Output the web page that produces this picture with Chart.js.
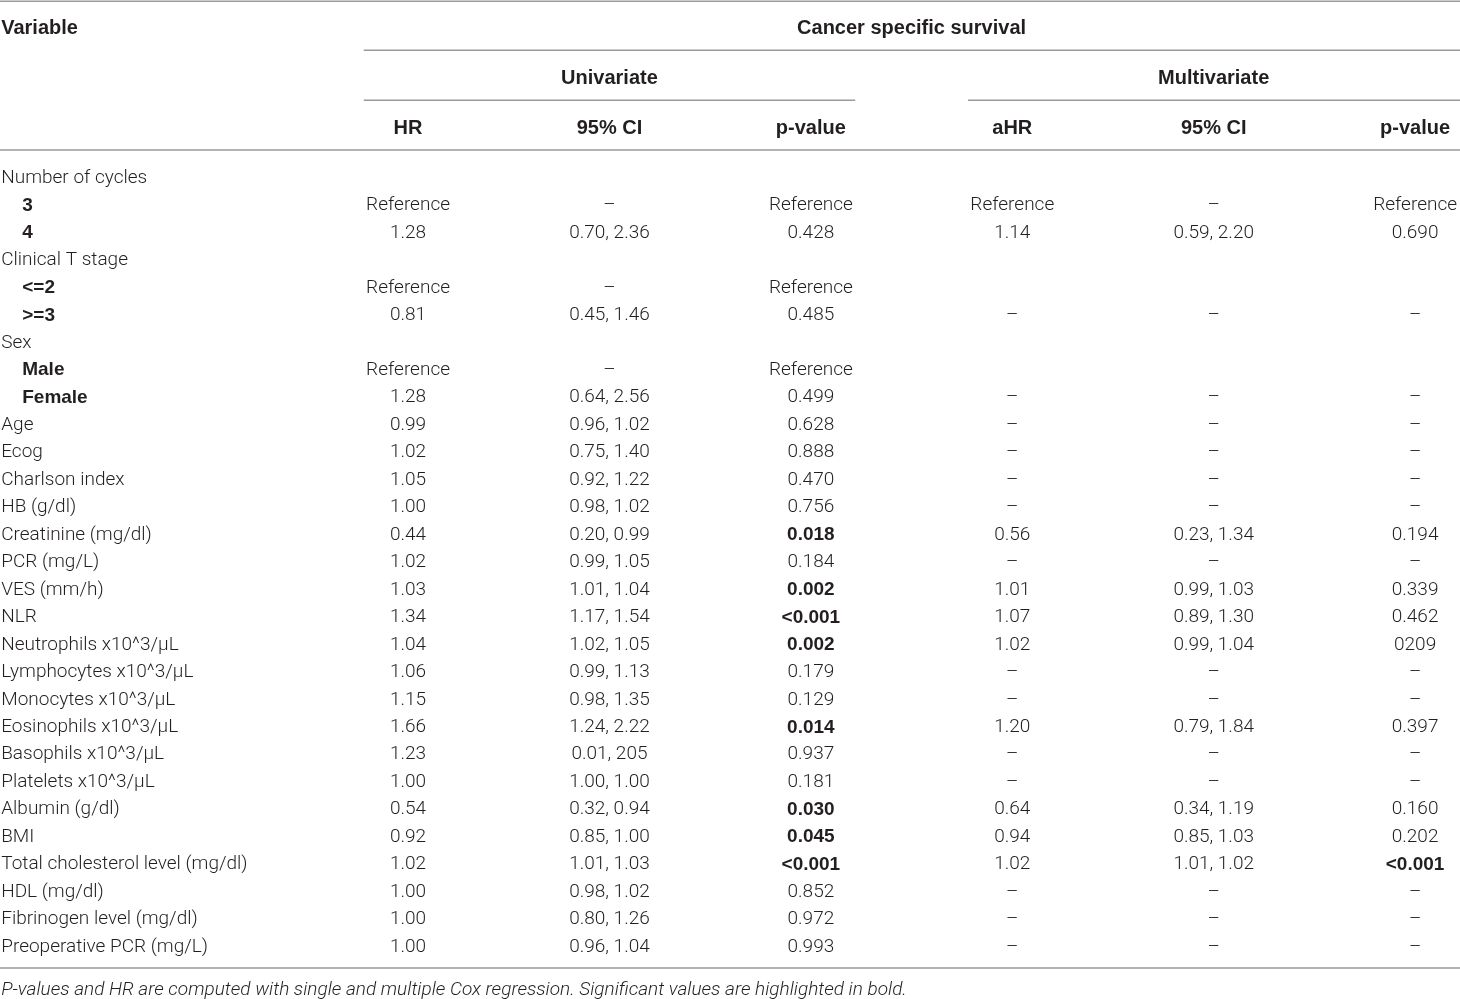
<!DOCTYPE html>
<html>
<head>
<meta charset="utf-8">
<script src="https://cdn.jsdelivr.net/npm/chart.js@4/dist/chart.umd.min.js"></script>
<style>
	html, body { margin: 0; padding: 0; background: #fff; }
	canvas { display: block; }
</style>
</head>
<body>
<canvas id="table" width="1460" height="999"></canvas>
<script>
// table content
const variables = ["Number of cycles", "3", "4", "Clinical T stage", "<=2", ">=3", "Sex", "Male", "Female",
	"Age", "Ecog", "Charlson index", "HB (g/dl)", "Creatinine (mg/dl)", "PCR (mg/L)", "VES (mm/h)", "NLR",
	"Neutrophils x10^3/\u03bcL", "Lymphocytes x10^3/\u03bcL", "Monocytes x10^3/\u03bcL", "Eosinophils x10^3/\u03bcL",
	"Basophils x10^3/\u03bcL", "Platelets x10^3/\u03bcL", "Albumin (g/dl)", "BMI", "Total cholesterol level (mg/dl)",
	"HDL (mg/dl)", "Fibrinogen level (mg/dl)", "Preoperative PCR (mg/L)"];
const subLevels = ["3", "4", "<=2", ">=3", "Male", "Female"];

const hrUni = ["", "Reference", "1.28", "", "Reference", "0.81", "", "Reference", "1.28", "0.99", "1.02", "1.05",
	"1.00", "0.44", "1.02", "1.03", "1.34", "1.04", "1.06", "1.15", "1.66", "1.23", "1.00", "0.54", "0.92", "1.02",
	"1.00", "1.00", "1.00"];
const ciUni = ["", "\u2013", "0.70, 2.36", "", "\u2013", "0.45, 1.46", "", "\u2013", "0.64, 2.56", "0.96, 1.02",
	"0.75, 1.40", "0.92, 1.22", "0.98, 1.02", "0.20, 0.99", "0.99, 1.05", "1.01, 1.04", "1.17, 1.54", "1.02, 1.05",
	"0.99, 1.13", "0.98, 1.35", "1.24, 2.22", "0.01, 205", "1.00, 1.00", "0.32, 0.94", "0.85, 1.00", "1.01, 1.03",
	"0.98, 1.02", "0.80, 1.26", "0.96, 1.04"];
const pUni = ["", "Reference", "0.428", "", "Reference", "0.485", "", "Reference", "0.499", "0.628", "0.888",
	"0.470", "0.756", "0.018", "0.184", "0.002", "<0.001", "0.002", "0.179", "0.129", "0.014", "0.937", "0.181",
	"0.030", "0.045", "<0.001", "0.852", "0.972", "0.993"];
const hrMulti = ["", "Reference", "1.14", "", "", "\u2013", "", "", "\u2013", "\u2013", "\u2013", "\u2013", "\u2013",
	"0.56", "\u2013", "1.01", "1.07", "1.02", "\u2013", "\u2013", "1.20", "\u2013", "\u2013", "0.64", "0.94", "1.02",
	"\u2013", "\u2013", "\u2013"];
const ciMulti = ["", "\u2013", "0.59, 2.20", "", "", "\u2013", "", "", "\u2013", "\u2013", "\u2013", "\u2013", "\u2013",
	"0.23, 1.34", "\u2013", "0.99, 1.03", "0.89, 1.30", "0.99, 1.04", "\u2013", "\u2013", "0.79, 1.84", "\u2013",
	"\u2013", "0.34, 1.19", "0.85, 1.03", "1.01, 1.02", "\u2013", "\u2013", "\u2013"];
const pMulti = ["", "Reference", "0.690", "", "", "\u2013", "", "", "\u2013", "\u2013", "\u2013", "\u2013", "\u2013",
	"0.194", "\u2013", "0.339", "0.462", "0209", "\u2013", "\u2013", "0.397", "\u2013", "\u2013", "0.160", "0.202",
	"<0.001", "\u2013", "\u2013", "\u2013"];

const columnHeaders = ["HR", "95% CI", "p-value", "aHR", "95% CI", "p-value"];
const groupHeaders = ["Univariate", "Multivariate"];
const title = "Cancer specific survival";
const footnote = "P-values and HR are computed with single and multiple Cox regression. Significant values are highlighted in bold.";

// layout in scale units (x: column index, y: row index)
const X_MIN = -1.026, X_MAX = 6.223;
const Y_MIN = -6.408, Y_MAX = 29.967;
const VAR_X = -1.02;
const ROW_TITLE = -5.46, ROW_GROUP = -3.64, ROW_HEAD = -1.82;
const RULE_TOP = -6.36, RULE_TITLE = -4.58, RULE_GROUP = -2.76, RULE_HEAD = -0.95, RULE_BOTTOM = 28.84;
const ROW_NOTE = 29.57;
const TEXT_DY = 2;

const FONT = "Roboto, 'Liberation Sans', sans-serif";
const BOLD_FONT = "'Liberation Sans', Arial, sans-serif";
const TEXT_COLOR = "#231f20";
const RULE_COLOR = "#9a9a9a";

const valueColumns = [hrUni, ciUni, pUni, hrMulti, ciMulti, pMulti];
const pColumns = [2, 5];

const isSignificant = (s) => {
	if (s.startsWith("<")) return true;
	const v = parseFloat(s);
	return s.startsWith("0.") && v < 0.05;
};

const datasets = [];
datasets.push({
	label: "Variable",
	data: variables.map((v, i) => ({ x: VAR_X, y: i })),
	texts: variables,
	align: "left",
});
valueColumns.forEach((col, c) => {
	datasets.push({
		label: columnHeaders[c],
		data: col.map((v, i) => ({ x: c + 1, y: i })),
		texts: col,
		align: "center",
		pColumn: pColumns.includes(c),
	});
});

const tablePlugin = {
	id: "tableText",
	afterDatasetsDraw(chart) {
		const ctx = chart.ctx;
		const xs = chart.scales.x;
		const ys = chart.scales.y;
		ctx.save();
		ctx.fillStyle = TEXT_COLOR;
		ctx.textBaseline = "middle";

		// body cells
		chart.data.datasets.forEach((ds, d) => {
			const meta = chart.getDatasetMeta(d);
			meta.data.forEach((pt, i) => {
				const s = ds.texts[i];
				if (!s) return;
				let bold = false;
				let x = pt.x;
				if (ds.align === "left" && subLevels.includes(s)) {
					bold = true;
					x += 21;
				}
				if (ds.pColumn && isSignificant(s)) bold = true;
				ctx.font = bold ? "bold 19px " + BOLD_FONT : "300 19px " + FONT;
				ctx.textAlign = ds.align;
				ctx.fillText(s, x, pt.y + TEXT_DY);
			});
		});

		// header text
		ctx.font = "bold 20px " + BOLD_FONT;
		ctx.textAlign = "left";
		ctx.fillText("Variable", xs.getPixelForValue(VAR_X), ys.getPixelForValue(ROW_TITLE) + TEXT_DY);
		ctx.textAlign = "center";
		ctx.fillText(title, xs.getPixelForValue(3.5), ys.getPixelForValue(ROW_TITLE) + TEXT_DY);
		groupHeaders.forEach((g, k) => {
			ctx.fillText(g, xs.getPixelForValue(2 + 3 * k), ys.getPixelForValue(ROW_GROUP) + TEXT_DY);
		});
		columnHeaders.forEach((h, c) => {
			ctx.fillText(h, xs.getPixelForValue(c + 1), ys.getPixelForValue(ROW_HEAD) + TEXT_DY);
		});

		// rules
		ctx.strokeStyle = RULE_COLOR;
		ctx.lineWidth = 1.5;
		const rule = (x0, x1, y) => {
			const py = ys.getPixelForValue(y);
			ctx.beginPath();
			ctx.moveTo(xs.getPixelForValue(x0), py);
			ctx.lineTo(xs.getPixelForValue(x1), py);
			ctx.stroke();
		};
		rule(X_MIN, X_MAX, RULE_TOP);
		rule(0.78, X_MAX, RULE_TITLE);
		rule(0.78, 3.22, RULE_GROUP);
		rule(3.78, X_MAX, RULE_GROUP);
		rule(X_MIN, X_MAX, RULE_HEAD);
		rule(X_MIN, X_MAX, RULE_BOTTOM);

		// footnote
		ctx.font = "italic 300 19px " + FONT;
		ctx.textAlign = "left";
		ctx.fillText(footnote, xs.getPixelForValue(VAR_X), ys.getPixelForValue(ROW_NOTE) + TEXT_DY, 907);
		ctx.restore();
	},
};

new Chart(document.getElementById("table").getContext("2d"), {
	type: "scatter",
	data: { datasets },
	options: {
		responsive: false,
		animation: false,
		events: [],
		layout: { padding: 0 },
		elements: { point: { radius: 0, hoverRadius: 0 } },
		plugins: { legend: { display: false }, tooltip: { enabled: false } },
		scales: {
			x: { type: "linear", min: X_MIN, max: X_MAX, display: false },
			y: { type: "linear", reverse: true, min: Y_MIN, max: Y_MAX, display: false },
		},
	},
	plugins: [tablePlugin],
});
</script>
</body>
</html>
